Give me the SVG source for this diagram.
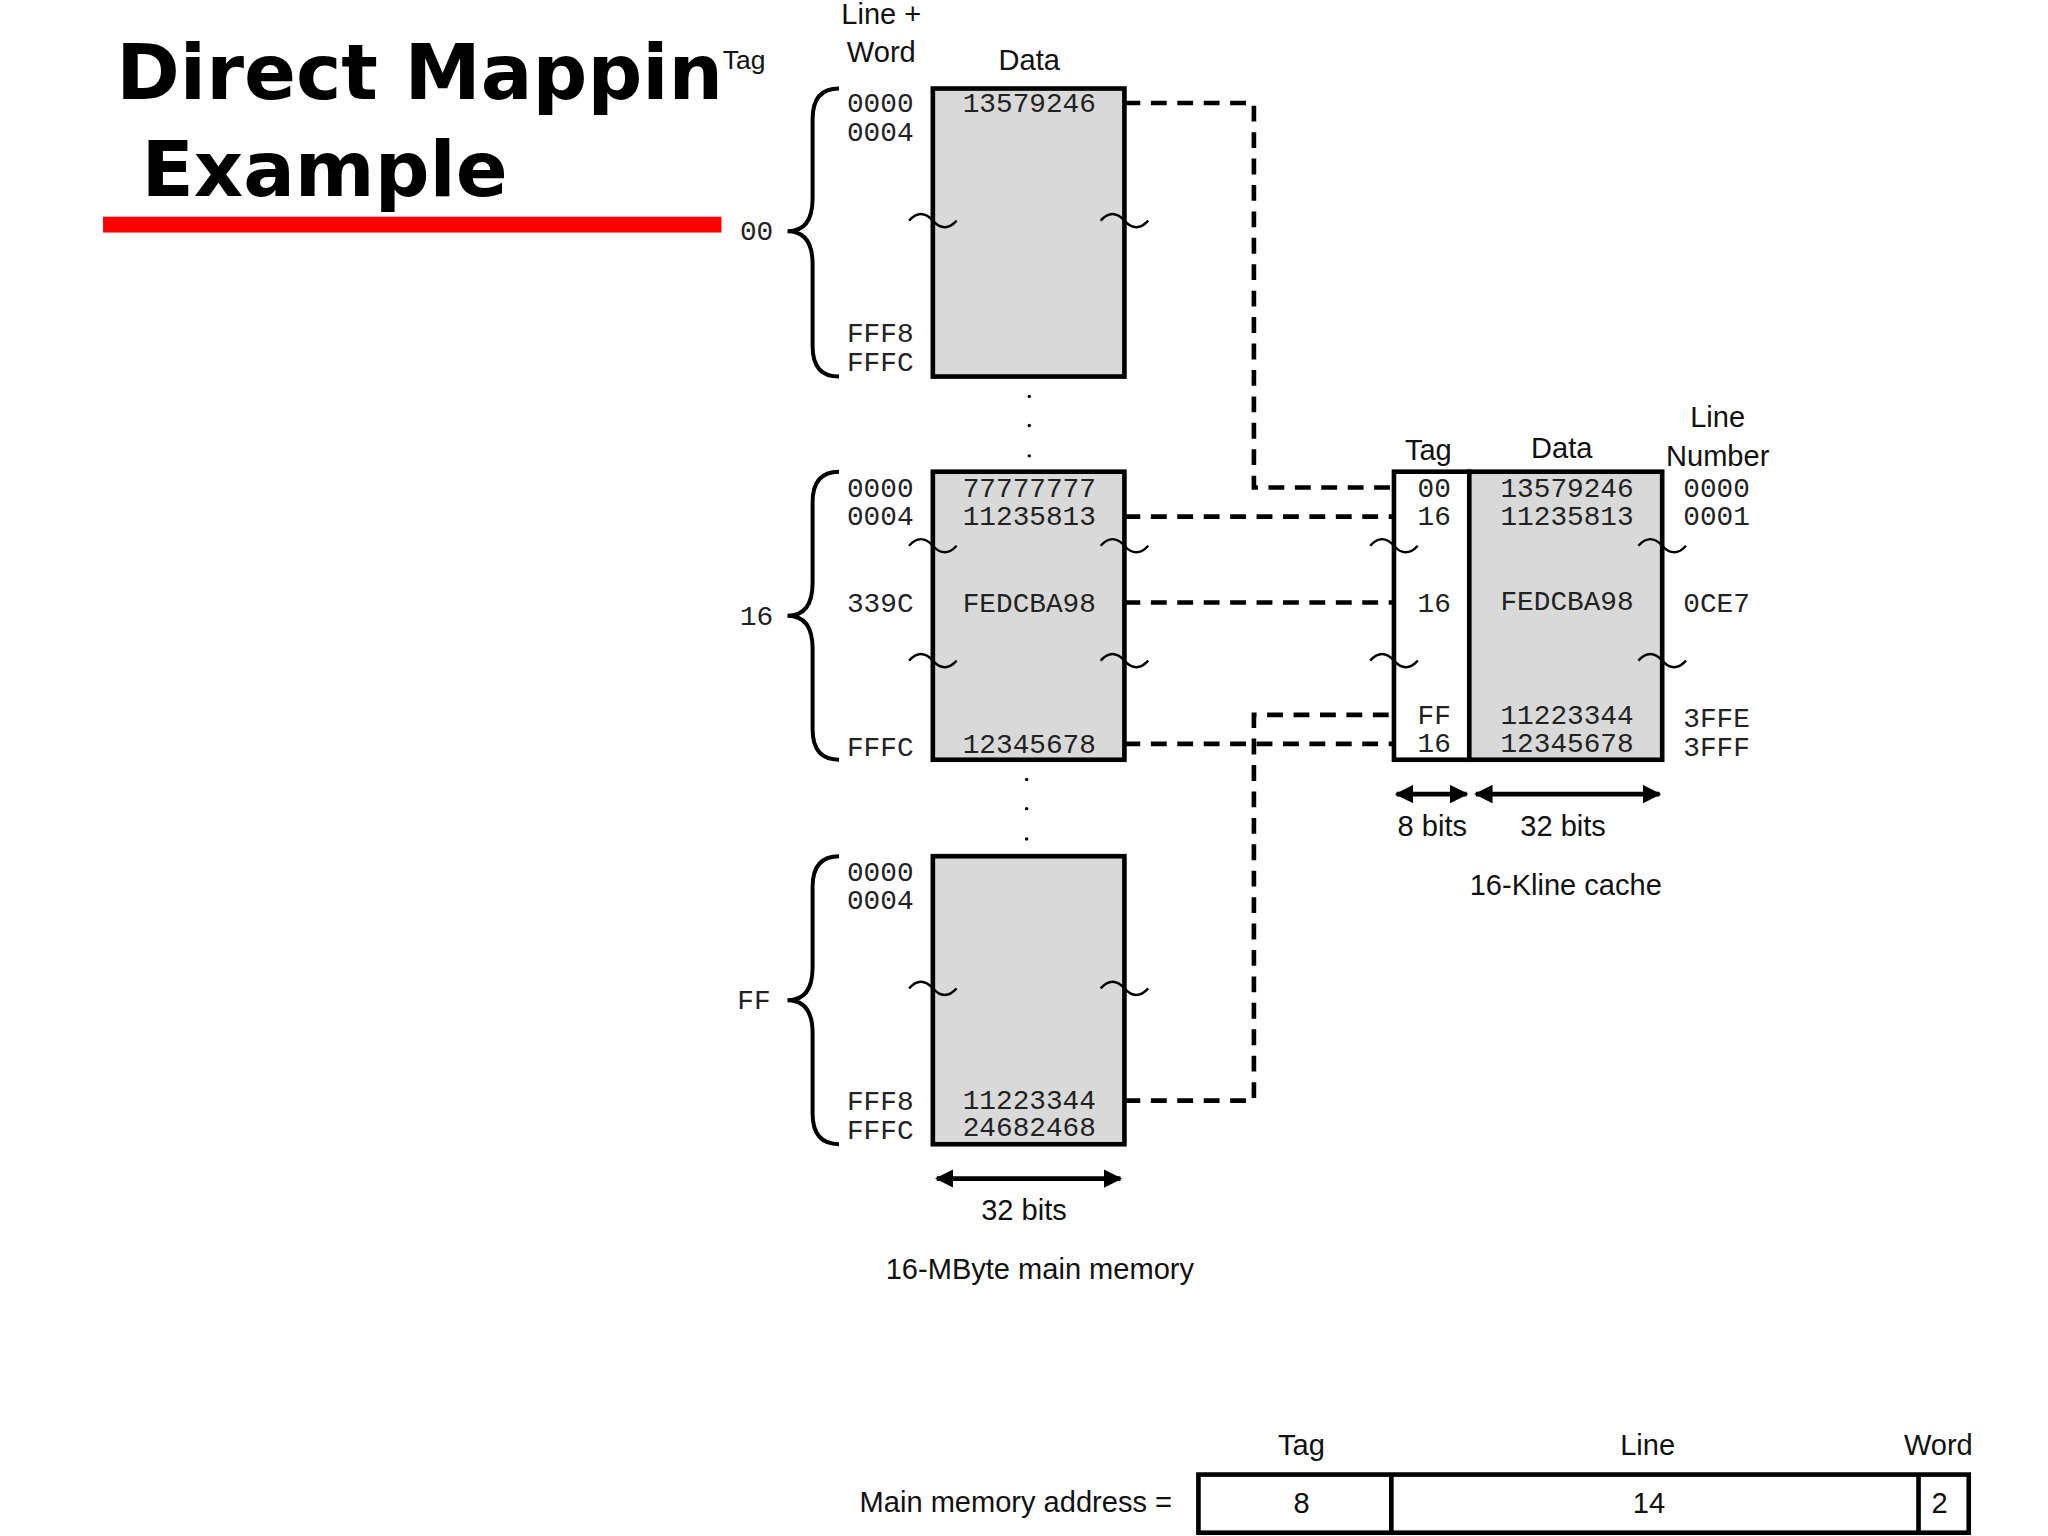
<svg xmlns="http://www.w3.org/2000/svg" width="2048" height="1536" viewBox="0 0 2048 1536">
<style>
.t{font-family:"Liberation Sans",Arial,sans-serif;font-size:22px;fill:#111}
.m{font-family:"Liberation Mono","DejaVu Sans Mono",monospace;font-size:21px;fill:#222}
.box{fill:#d9d9d9;stroke:#000;stroke-width:3.5}
.wb{fill:#fff;stroke:#000;stroke-width:3.5}
.br{fill:none;stroke:#000;stroke-width:3}
.sq{fill:none;stroke:#000;stroke-width:1.8}
.dash{fill:none;stroke:#000;stroke-width:3.5;stroke-dasharray:12 8}
.ar{stroke:#000;stroke-width:3.5;marker-start:url(#ah);marker-end:url(#ah)}
</style>
<defs>
<marker id="ah" viewBox="0 0 10 10" refX="9" refY="5" markerWidth="4" markerHeight="4" orient="auto-start-reverse"><path d="M0 0 L10 5 L0 10 z" fill="#000"/></marker>
<path id="sq" d="M -18 0 q 9 -10 18 0 q 9 10 18 0" class="sq"/>
</defs>
<rect width="2048" height="1536" fill="#fff"/>
<g transform="scale(1.3213)">
<g id="title">
<text x="88" y="75" style="font-family:'DejaVu Sans','Liberation Sans',sans-serif;font-weight:900;font-size:58px" fill="#000">Direct Mappin</text>
<text x="107" y="148" style="font-family:'DejaVu Sans','Liberation Sans',sans-serif;font-weight:900;font-size:58px" fill="#000">Example</text>
<rect x="78" y="164" width="468" height="12" fill="#f00"/>
</g>
<g id="headers">
<text class="t" x="547" y="52" style="font-size:20px">Tag</text>
<text class="t" x="667" y="18" text-anchor="middle">Line +</text>
<text class="t" x="667" y="47" text-anchor="middle">Word</text>
<text class="t" x="779" y="53" text-anchor="middle">Data</text>
</g>
<g id="mem-block-00">
<rect class="box" x="706" y="67" width="145" height="218"/>
<path class="br" d="M635 67 Q615 67 615 90 L615 150 Q615 175 596 175 Q615 175 615 200 L615 262 Q615 285 635 285"/>
<text class="m" x="560" y="182">00</text>
<text class="m" x="641" y="85">0000</text><text class="m" x="641" y="107">0004</text>
<text class="m" x="641" y="259">FFF8</text><text class="m" x="641" y="281">FFFC</text>
<text class="m" x="779" y="85" text-anchor="middle">13579246</text>
<use href="#sq" x="706" y="167"/><use href="#sq" x="851" y="167"/>
</g>
<g id="dots" fill="#000">
<circle cx="779" cy="300" r="1.3"/><circle cx="779" cy="322" r="1.3"/><circle cx="779" cy="345" r="1.3"/>
<circle cx="777" cy="590" r="1.3"/><circle cx="777" cy="612" r="1.3"/><circle cx="777" cy="635" r="1.3"/>
</g>
<g id="mem-block-16">
<rect class="box" x="706" y="357" width="145" height="218"/>
<path class="br" d="M635 357 Q615 357 615 380 L615 441 Q615 466 596 466 Q615 466 615 491 L615 552 Q615 575 635 575"/>
<text class="m" x="560" y="473">16</text>
<text class="m" x="641" y="376">0000</text><text class="m" x="641" y="397">0004</text>
<text class="m" x="641" y="463">339C</text><text class="m" x="641" y="572">FFFC</text>
<text class="m" x="779" y="376" text-anchor="middle">77777777</text>
<text class="m" x="779" y="397" text-anchor="middle">11235813</text>
<text class="m" x="779" y="463" text-anchor="middle">FEDCBA98</text>
<text class="m" x="779" y="570" text-anchor="middle">12345678</text>
<use href="#sq" x="706" y="413"/><use href="#sq" x="851" y="413"/>
<use href="#sq" x="706" y="500"/><use href="#sq" x="851" y="500"/>
</g>
<g id="mem-block-FF">
<rect class="box" x="706" y="648" width="145" height="218"/>
<path class="br" d="M635 648 Q615 648 615 671 L615 732 Q615 757 596 757 Q615 757 615 782 L615 843 Q615 866 635 866"/>
<text class="m" x="558" y="764">FF</text>
<text class="m" x="641" y="667">0000</text><text class="m" x="641" y="688">0004</text>
<text class="m" x="641" y="840">FFF8</text><text class="m" x="641" y="862">FFFC</text>
<text class="m" x="779" y="839" text-anchor="middle">11223344</text>
<text class="m" x="779" y="860" text-anchor="middle">24682468</text>
<use href="#sq" x="706" y="748"/><use href="#sq" x="851" y="748"/>
</g>
<g id="mem-labels">
<line class="ar" x1="709" y1="892" x2="848" y2="892"/>
<text class="t" x="775" y="923" text-anchor="middle">32 bits</text>
<text class="t" x="787" y="968" text-anchor="middle">16-MByte main memory</text>
</g>
<g id="cache">
<rect class="wb" x="1055" y="357" width="57" height="218"/>
<rect class="box" x="1112" y="357" width="146" height="218"/>
<text class="t" x="1081" y="348" text-anchor="middle">Tag</text>
<text class="t" x="1182" y="347" text-anchor="middle">Data</text>
<text class="t" x="1300" y="323" text-anchor="middle">Line</text>
<text class="t" x="1300" y="353" text-anchor="middle">Number</text>
<text class="m" x="1098" y="376" text-anchor="end">00</text>
<text class="m" x="1098" y="397" text-anchor="end">16</text>
<text class="m" x="1098" y="463" text-anchor="end">16</text>
<text class="m" x="1098" y="548" text-anchor="end">FF</text>
<text class="m" x="1098" y="569" text-anchor="end">16</text>
<text class="m" x="1186" y="376" text-anchor="middle">13579246</text>
<text class="m" x="1186" y="397" text-anchor="middle">11235813</text>
<text class="m" x="1186" y="462" text-anchor="middle">FEDCBA98</text>
<text class="m" x="1186" y="548" text-anchor="middle">11223344</text>
<text class="m" x="1186" y="569" text-anchor="middle">12345678</text>
<text class="m" x="1274" y="376">0000</text>
<text class="m" x="1274" y="397">0001</text>
<text class="m" x="1274" y="463">0CE7</text>
<text class="m" x="1274" y="550">3FFE</text>
<text class="m" x="1274" y="572">3FFF</text>
<use href="#sq" x="1055" y="413"/><use href="#sq" x="1258" y="413"/>
<use href="#sq" x="1055" y="500"/><use href="#sq" x="1258" y="500"/>
<line class="ar" x1="1057" y1="601" x2="1110" y2="601"/>
<line class="ar" x1="1117" y1="601" x2="1256" y2="601"/>
<text class="t" x="1084" y="633" text-anchor="middle">8 bits</text>
<text class="t" x="1183" y="633" text-anchor="middle">32 bits</text>
<text class="t" x="1185" y="677" text-anchor="middle">16-Kline cache</text>
</g>
<g id="connectors">
<path class="dash" d="M851 78 H949 V369 H1055"/>
<path class="dash" d="M851 391 H1055"/>
<path class="dash" d="M851 456 H1055"/>
<path class="dash" d="M851 563 H1055"/>
<path class="dash" d="M851 833 H949 V541 H1055"/>
</g>
<g id="address">
<text class="t" x="887" y="1144" text-anchor="end">Main memory address =</text>
<rect x="907" y="1116" width="583" height="44" fill="#fff" stroke="#000" stroke-width="3.5"/>
<line x1="1053" y1="1116" x2="1053" y2="1160" stroke="#000" stroke-width="3.5"/>
<line x1="1452" y1="1116" x2="1452" y2="1160" stroke="#000" stroke-width="3.5"/>
<text class="t" x="985" y="1101" text-anchor="middle">Tag</text>
<text class="t" x="1247" y="1101" text-anchor="middle">Line</text>
<text class="t" x="1467" y="1101" text-anchor="middle">Word</text>
<text class="t" x="985" y="1145" text-anchor="middle">8</text>
<text class="t" x="1248" y="1145" text-anchor="middle">14</text>
<text class="t" x="1468" y="1145" text-anchor="middle">2</text>
</g>
</g>
</svg>
